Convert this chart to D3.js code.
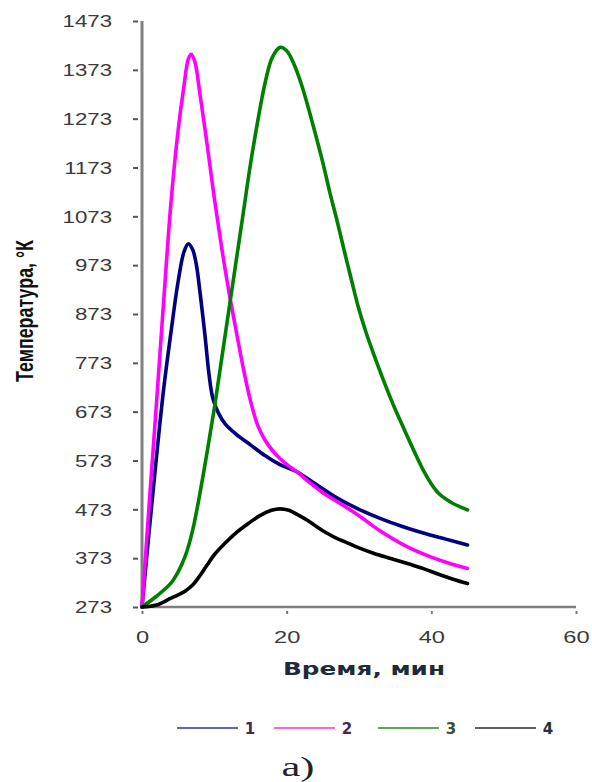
<!DOCTYPE html>
<html>
<head>
<meta charset="utf-8">
<script src="https://cdn.jsdelivr.net/npm/d3@7"></script>
<style>
  html, body { margin: 0; padding: 0; background: #fff; }
  svg { display: block; }
</style>
</head>
<body>
<svg id="chart" width="592" height="782"></svg>
<script>
// ---- data (time, min ; temperature, K) ----
const series1 = [[0,273],[1,430],[2,580],[3,720],[4,835],[5,940],[5.8,1000],[6.4,1017],[7,1005],[7.5,975],[8,920],[8.7,830],[9.3,745],[9.8,700],[10.5,672],[11.5,648],[13,627],[15,605],[17,583],[19,565],[21.4,550],[24,525],[27,496],[30,473],[33,454],[36,438],[39,424],[42,412],[45,400]];
const series2 = [[0,273],[1,485],[2,690],[3,900],[4,1100],[5,1250],[5.8,1340],[6.4,1395],[6.8,1405],[7.3,1390],[8,1325],[9,1220],[10,1110],[11,1010],[12,920],[13,840],[14,762],[15,695],[16,645],[17,615],[18,594],[19,578],[20,565],[21.4,550],[23,530],[25,507],[27.4,485],[30,460],[33,428],[36.7,396],[40,375],[43,360],[45,352]];
const series3 = [[0,273],[2,295],[4,322],[5,345],[6,378],[7,430],[8,505],[9,590],[10,680],[11,780],[12,880],[13,980],[14,1080],[15,1180],[16,1268],[17,1345],[18,1398],[19.1,1419],[20,1412],[21,1385],[22,1345],[23,1295],[24,1240],[25,1183],[26,1120],[27,1062],[28,1000],[29,940],[30,882],[31,834],[32,792],[33,752],[34,714],[35,678],[36,645],[37,612],[38,580],[39,550],[40,525],[41,506],[42,494],[43,485],[44,478],[45,472]];
const series4 = [[0,273],[2,277],[4,291],[5,298],[6,306],[7,318],[8,337],[9,359],[10,380],[11.5,404],[13,425],[14.7,444],[16.3,460],[17.9,471],[19.1,474],[20.3,471],[21.5,462],[22.8,451],[24,439],[25.6,424],[27,413],[28.3,405],[30,394],[32,383],[34.5,372],[36.7,362],[39,351],[41,340],[43,330],[45,321]];
const seriesNames = ["1","2","3","4"];
const yTicks = [273,373,473,573,673,773,873,973,1073,1173,1273,1373,1473];
const xTicks = [0,20,40,60];
const yTitle = "Температура, °К";
const xTitle = "Время, мин";
const caption = "a)";

const lineColors = ["#000080","#ff00ff","#008000","#000000"];
const legendColors = ["#6464b4","#ff66d8","#5aa85a","#606060"];
const legendTextColors = ["#40285a","#40285a","#3c4a3c","#23323a"];

const svg = d3.select("#chart");
const mLeft = 142, mRight = 576, mTop = 21, mBottom = 607;

const x = d3.scaleLinear().domain([0,60]).range([mLeft, mRight]);
const y = d3.scaleLinear().domain([273,1473]).range([mBottom, mTop]);

// axes
const yAxis = d3.axisLeft(y).tickValues(yTicks).tickSize(5).tickPadding(0).tickFormat(d3.format("d"));
const gy = svg.append("g").attr("transform", `translate(${mLeft},0)`).call(yAxis);
gy.select(".domain").remove();
gy.selectAll(".tick line").attr("x1", -9).attr("x2", -4).attr("stroke", "#555").attr("stroke-width", 2);
gy.selectAll(".tick text")
  .attr("x", 0).attr("dy", "0.36em")
  .attr("transform", "translate(-30,0) scale(1.39,1)")
  .attr("text-anchor", "end")
  .style("font-family", "'Liberation Sans', Arial, sans-serif")
  .style("font-size", "16px")
  .attr("fill", "#3a3a3a");

const xAxis = d3.axisBottom(x).tickValues(xTicks).tickSize(6).tickPadding(0).tickFormat(d3.format("d"));
const gx = svg.append("g").attr("transform", `translate(0,${mBottom})`).call(xAxis);
gx.select(".domain").remove();
gx.selectAll(".tick line").attr("y1", 4).attr("y2", 7).attr("stroke", "#777").attr("stroke-width", 2);
gx.selectAll(".tick text")
  .attr("y", 0).attr("dy", 0)
  .attr("transform", "translate(0,36) scale(1.39,1)")
  .attr("text-anchor", "middle")
  .style("font-family", "'Liberation Sans', Arial, sans-serif")
  .style("font-size", "17px")
  .attr("fill", "#3a3a3a");

// axis lines
svg.append("line").attr("x1", mLeft).attr("x2", mLeft).attr("y1", mTop).attr("y2", mBottom)
  .attr("stroke", "#7f7f7f").attr("stroke-width", 3);
svg.append("line").attr("x1", mLeft).attr("x2", mRight).attr("y1", mBottom).attr("y2", mBottom)
  .attr("stroke", "#7f7f7f").attr("stroke-width", 2.5);

// curves
const line = d3.line().x(d => x(d[0])).y(d => y(d[1])).curve(d3.curveCatmullRom.alpha(0.5));
[series1, series2, series3, series4].forEach((s, i) => {
  svg.append("path").datum(s).attr("d", line)
    .attr("fill", "none").attr("stroke", lineColors[i]).attr("stroke-width", 3.6)
    .attr("stroke-linejoin", "round").attr("stroke-linecap", "round");
});

// titles
svg.append("text")
  .attr("transform", `translate(33,${(240+382)/2}) rotate(-90)`)
  .attr("text-anchor", "middle")
  .attr("textLength", 142).attr("lengthAdjust", "spacingAndGlyphs")
  .style("font-family", "'Liberation Sans Narrow', 'Liberation Sans', Arial, sans-serif")
  .style("font-weight", "bold").style("font-size", "24px")
  .attr("fill", "#111")
  .text(yTitle);

svg.append("text")
  .attr("x", 364).attr("y", 675)
  .attr("text-anchor", "middle")
  .attr("textLength", 162).attr("lengthAdjust", "spacingAndGlyphs")
  .style("font-family", "'DejaVu Sans', 'Liberation Sans', Arial, sans-serif")
  .style("font-weight", "bold").style("font-size", "18px")
  .attr("fill", "#1e2a3a")
  .text(xTitle);

// legend
const legX = [177, 274, 378, 475];
const legY = 728;
seriesNames.forEach((n, i) => {
  svg.append("line").attr("x1", legX[i]).attr("x2", legX[i] + 61).attr("y1", legY).attr("y2", legY)
    .attr("stroke", legendColors[i]).attr("stroke-width", 2);
  svg.append("text").attr("x", legX[i] + 73).attr("y", legY + 6)
    .attr("text-anchor", "middle")
    .style("font-family", "'DejaVu Sans', 'Liberation Sans', sans-serif")
    .style("font-weight", "bold").style("font-size", "15px")
    .attr("fill", legendTextColors[i])
    .text(n);
});

svg.append("text")
  .attr("x", 298).attr("y", 776)
  .attr("text-anchor", "middle")
  .attr("textLength", 33).attr("lengthAdjust", "spacingAndGlyphs")
  .style("font-family", "'Liberation Serif', 'DejaVu Serif', serif")
  .style("font-size", "27px")
  .attr("fill", "#222")
  .text(caption);
</script>
</body>
</html>
